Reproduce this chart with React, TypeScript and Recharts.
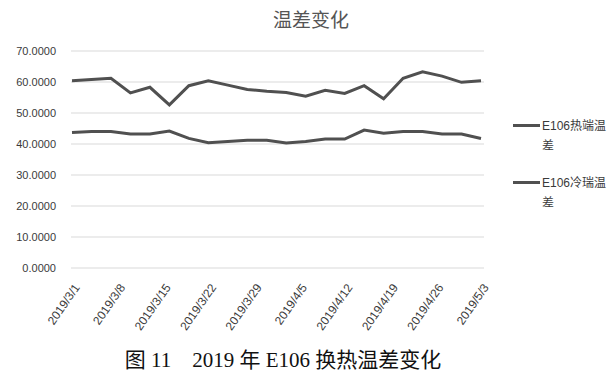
import { CartesianGrid, Legend, Line, LineChart, XAxis, YAxis } from "recharts";

const dates = [
  "2019/3/1", "2019/3/4", "2019/3/7", "2019/3/10", "2019/3/13", "2019/3/16",
  "2019/3/19", "2019/3/22", "2019/3/25", "2019/3/28", "2019/3/31", "2019/4/3",
  "2019/4/6", "2019/4/9", "2019/4/12", "2019/4/15", "2019/4/18", "2019/4/21",
  "2019/4/24", "2019/4/27", "2019/4/30", "2019/5/3",
];

const hotEnd = [
  60.4, 60.8, 61.2, 56.5, 58.3, 52.6, 58.8, 60.4, 59.0, 57.6, 57.0,
  56.6, 55.4, 57.3, 56.3, 58.8, 54.6, 61.2, 63.3, 61.9, 59.9, 60.4,
];

const coldEnd = [
  43.7, 44.0, 44.0, 43.2, 43.2, 44.2, 41.8, 40.4, 40.8, 41.2, 41.2,
  40.3, 40.8, 41.6, 41.6, 44.5, 43.5, 44.0, 44.0, 43.2, 43.2, 41.8,
];

const xTickLabels = [
  "2019/3/1", "2019/3/8", "2019/3/15", "2019/3/22", "2019/3/29",
  "2019/4/5", "2019/4/12", "2019/4/19", "2019/4/26", "2019/5/3",
];

const yTicks = [0, 10, 20, 30, 40, 50, 60, 70];

const seriesNames = ["E106热端温差", "E106冷瑞温差"];

// date axis: days since the first date
const start = new Date(dates[0]).getTime();
const toDay = (s: string) => Math.round((new Date(s).getTime() - start) / 86400000);
const dayToLabel = new Map(xTickLabels.map((s) => [toDay(s), s]));

const data = dates.map((date, i) => ({
  day: toDay(date),
  hot: hotEnd[i],
  cold: coldEnd[i],
}));

const lineColor = "#505050";
const textColor = "#3a3a3a";
const latin = "'Liberation Sans', 'Noto Sans CJK SC', sans-serif";

function DateTick(props: any) {
  const { x, y, payload } = props;
  return (
    <g transform={`translate(${x + 5},${y + 9})`}>
      <text
        x={0}
        y={0}
        dy="0.35em"
        textAnchor="end"
        transform="rotate(-55)"
        fill={textColor}
        fontSize={12}
        fontFamily={latin}
      >
        {dayToLabel.get(payload.value) ?? ""}
      </text>
    </g>
  );
}

function LegendBox() {
  return (
    <div style={{ fontFamily: latin, fontSize: 12, color: textColor }}>
      {seriesNames.map((name) => (
        <div
          key={name}
          style={{ display: "flex", alignItems: "flex-start", marginBottom: 17 }}
        >
          <div
            style={{
              width: 27,
              height: 3,
              background: lineColor,
              marginTop: 8,
              marginRight: 2,
            }}
          />
          <div style={{ width: 66, lineHeight: "20px" }}>{name}</div>
        </div>
      ))}
    </div>
  );
}

export default function App() {
  return (
    <div
      style={{
        position: "absolute",
        left: 0,
        top: 0,
        width: 614,
        height: 374,
        background: "#fff",
      }}
    >
      <div
        style={{
          position: "absolute",
          left: 0,
          top: 5,
          width: 622,
          textAlign: "center",
          fontFamily: "'Noto Sans CJK SC', sans-serif",
          fontSize: 19,
          color: "#555",
        }}
      >
        温差变化
      </div>
      <LineChart
        width={614}
        height={374}
        data={data}
        margin={{ top: 51, right: 130, bottom: 46, left: 0 }}
      >
        <CartesianGrid vertical={false} stroke="#d9d9d9" />
        <XAxis
          dataKey="day"
          type="number"
          domain={[0, 63]}
          ticks={xTickLabels.map(toDay)}
          interval={0}
          height={60}
          axisLine={false}
          tickLine={false}
          padding={{ left: 1, right: 3 }}
          tick={<DateTick />}
        />
        <YAxis
          domain={[0, 70]}
          ticks={yTicks}
          width={71}
          axisLine={false}
          tickLine={false}
          tickMargin={9}
          tick={{ fill: textColor, fontSize: 11, fontFamily: latin }}
          tickFormatter={(v: number) => v.toFixed(4)}
        />
        <Legend
          layout="vertical"
          align="center"
          verticalAlign="middle"
          wrapperStyle={{ left: 513, top: 116, width: 100 }}
          content={() => <LegendBox />}
        />
        <Line
          dataKey="hot"
          name={seriesNames[0]}
          stroke={lineColor}
          strokeWidth={3}
          dot={false}
          isAnimationActive={false}
        />
        <Line
          dataKey="cold"
          name={seriesNames[1]}
          stroke={lineColor}
          strokeWidth={3}
          dot={false}
          isAnimationActive={false}
        />
      </LineChart>
      <div
        style={{
          position: "absolute",
          left: 0,
          top: 343,
          width: 566,
          textAlign: "center",
          fontFamily: "'Liberation Serif', 'Noto Sans CJK SC', serif",
          fontSize: 21,
          color: "#111",
          whiteSpace: "pre",
        }}
      >
        {"图 11    2019 年 E106 换热温差变化"}
      </div>
    </div>
  );
}
